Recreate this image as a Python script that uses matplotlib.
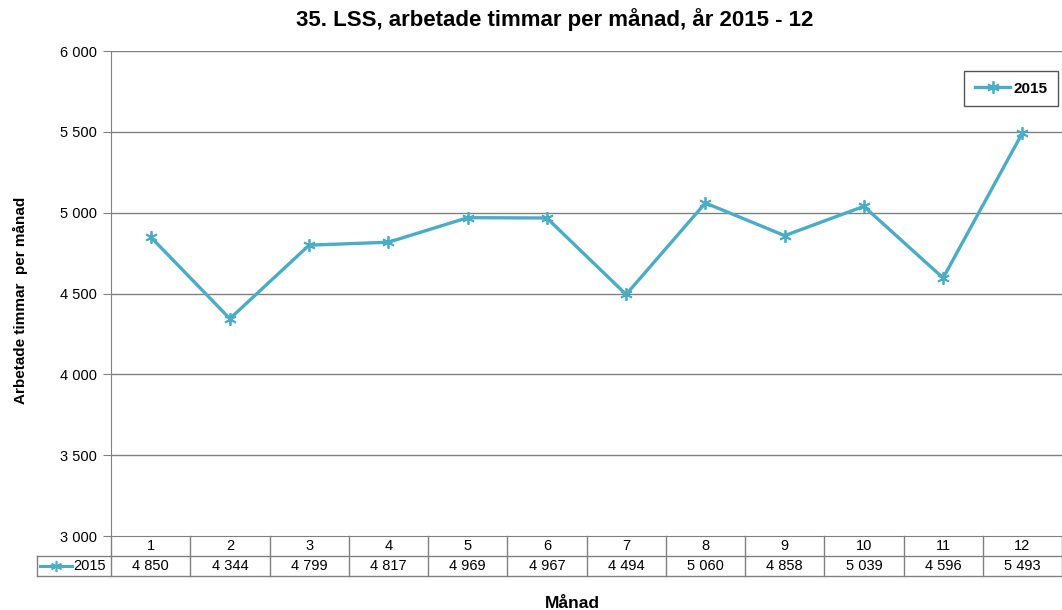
import matplotlib
matplotlib.use("Agg")
import matplotlib.pyplot as plt
from matplotlib.transforms import blended_transform_factory
from matplotlib.lines import Line2D

plt.rcParams['font.family'] = ['Liberation Sans', 'DejaVu Sans']

# data
months = [1, 2, 3, 4, 5, 6, 7, 8, 9, 10, 11, 12]
hours_2015 = [4850, 4344, 4799, 4817, 4969, 4967, 4494, 5060, 4858, 5039, 4596, 5493]
series_name = "2015"
yticks = [3000, 3500, 4000, 4500, 5000, 5500, 6000]

col = "#4BACC6"
grid_col = "#808080"

def fmt(v):
    return f"{v:,}".replace(",", " ")

fig = plt.figure(figsize=(10.62, 6.10), dpi=100)
ax = fig.add_axes([111/1062, 1 - 536/610, 951/1062, 485/610])

for y in yticks[1:]:
    ax.axhline(y, color=grid_col, lw=1.0, zorder=1)

ax.plot(months, hours_2015, color=col, lw=2.4, marker=(6, 2, 0), ms=9,
        mew=1.3, mec=col, zorder=3, label=series_name)

ax.set_xlim(0.5, 12.5)
ax.set_ylim(3000, 6000)
ax.set_yticks(yticks)
ax.set_yticklabels([fmt(v) for v in yticks], fontsize=10.5)
ax.set_xticks([])
for s in ["top", "right"]:
    ax.spines[s].set_visible(False)
ax.spines["left"].set_color(grid_col)
ax.spines["bottom"].set_color(grid_col)
ax.tick_params(axis="y", length=6, color=grid_col, pad=4)

fig.text(20 / 1062, 1 - 300 / 610, "Arbetade timmar  per månad", rotation=90,
         ha="center", va="center", fontsize=11, fontweight="bold")
fig.text(555 / 1062, 1 - 20 / 610, "35. LSS, arbetade timmar per månad, år 2015 - 12",
         ha="center", va="center", fontsize=16, fontweight="bold")

# data table below the axis
tr = blended_transform_factory(ax.transData, ax.transAxes)
rh = 20 / 485
x_left = 0.5 - 74 / 79.25
lkw = dict(color=grid_col, lw=1.0, transform=tr, clip_on=False)
ax.add_line(Line2D([0.5, 12.5], [-rh, -rh], **lkw))
ax.add_line(Line2D([x_left, 12.5], [-2 * rh, -2 * rh], **lkw))
ax.add_line(Line2D([x_left, x_left], [-rh, -2 * rh], **lkw))
for k in range(13):
    xb = 0.5 + k
    ax.add_line(Line2D([xb, xb], [0, -2 * rh], **lkw))
ax.add_line(Line2D([x_left, 0.5], [-rh, -rh], **lkw))
for m, v in zip(months, hours_2015):
    ax.text(m, -rh / 2, str(m), transform=tr, ha="center", va="center", fontsize=10.5)
    ax.text(m, -1.5 * rh, fmt(v), transform=tr, ha="center", va="center", fontsize=10.5)
# legend key inside table
kx0 = x_left + 3 / 79.25
kx1 = x_left + 35 / 79.25
ax.add_line(Line2D([kx0, kx1], [-1.5 * rh, -1.5 * rh], color=col, lw=2.2,
                   transform=tr, clip_on=False))
ax.add_line(Line2D([(kx0 + kx1) / 2], [-1.5 * rh], color=col, marker=(6, 2, 0),
                   ms=8, mew=1.1, transform=tr, clip_on=False))
ax.text(kx1 + 1 / 79.25, -1.5 * rh, series_name, transform=tr, ha="left",
        va="center", fontsize=10.5)

fig.text(572 / 1062, 1 - 603 / 610, "Månad", ha="center",
         va="center", fontsize=12.5, fontweight="bold")

leg = ax.legend(loc="upper right", bbox_to_anchor=(1058 / 1062, 1 - 71 / 610),
                bbox_transform=fig.transFigure, fancybox=False, edgecolor="#555555",
                prop={"weight": "bold", "size": 11}, handlelength=2.3,
                handletextpad=0.2, borderpad=0.7, borderaxespad=0, framealpha=1)
leg.get_frame().set_linewidth(1.0)

fig.savefig("out.png", dpi=100)
